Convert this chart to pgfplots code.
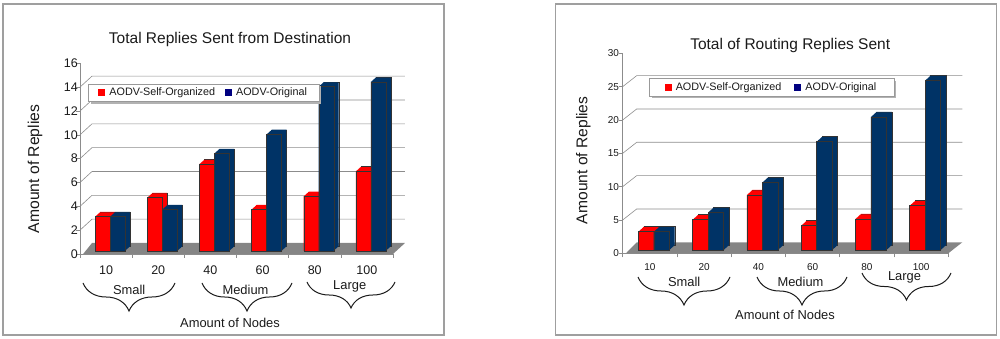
\documentclass[border=0pt]{standalone}
\usepackage{fontspec}
\setmainfont{Liberation Sans}
\usepackage{pgfplots}
\pgfplotsset{compat=1.18}
\usepackage{pgfplotstable}
\usetikzlibrary{decorations.pathreplacing,shadows}

\definecolor{barred}{HTML}{FF0000}
\definecolor{barblue}{HTML}{003366}
\definecolor{legblue}{HTML}{000080}
\definecolor{txt}{HTML}{1A1A1A}
\definecolor{floorgray}{HTML}{858585}
\definecolor{gridgray}{HTML}{8C8C8C}

\pgfplotstableread{
cat self orig
0 2.9 2.9
1 4.5 3.5
2 7.3 8.2
3 3.5 9.8
4 4.6 13.8
5 6.7 14.2
}\dest
\pgfplotstableread{
cat self orig
0 2.8 2.8
1 4.6 5.7
2 8.3 10.2
3 3.7 16.3
4 4.7 20.0
5 6.7 25.5
}\routing

% #1 table, #2 column, #3 colour, #4 bar shift, #5 depth x, #6 depth y, #7 bar width
\newcommand{\barseries}[7]{%
  \addplot[ybar, forget plot, bar width=#7, bar shift=#4, fill=#3, draw=black!80, line width=0.3pt,
           xshift=#5, yshift=3pt+#6] table[x=cat,y=#2]{#1};
  \pgfplotsinvokeforeach{9,8,...,1}{%
    \addplot[ybar, forget plot, bar width=#7, bar shift=#4, fill=#3, draw=none,
             xshift={##1*#5/10}, yshift={3pt+##1*#6/10}] table[x=cat,y=#2]{#1};
  }
  \addplot[ybar, forget plot, bar width=#7, bar shift=#4, fill=#3, draw=black!80, line width=0.3pt,
           yshift=3pt] table[x=cat,y=#2]{#1};
}

\newcommand{\legsquare}[1]{%
  \pgfsetfillcolor{#1}%
  \pgfpathrectangle{\pgfpoint{0pt}{-3.5pt}}{\pgfpoint{7pt}{7pt}}%
  \pgfusepath{fill}%
  \pgfpathrectangle{\pgfpoint{0pt}{-3.5pt}}{\pgfpoint{9pt}{7pt}}%
  \pgfusepath{use as bounding box}%
}

\pgfplotsset{
  chartbase/.style={
    scale only axis, clip=false, axis on top=false,
    axis lines=left, axis line style={-, draw=gridgray, line width=0.6pt},
    xmin=-0.5, xmax=5.5, ymin=0,
    xtick={-0.5,0.5,1.5,2.5,3.5,4.5,5.5},
    xticklabels={10,20,40,60,80,100},
    x tick label as interval,
    tick align=outside, major tick length=4pt,
    tick style={draw=gridgray, line width=0.6pt},
    /pgf/number format/assume math mode=true,
    tick label style={text=txt},
    yticklabel style={inner xsep=1pt},
    legend columns=2,
    legend cell align=left,
  },
  legred/.style={legend image code/.code={\legsquare{barred}}},
  legblue/.style={legend image code/.code={\legsquare{legblue}}},
}

\begin{document}
\begin{tikzpicture}[x=1pt,y=1pt]
\path[use as bounding box] (0,0) rectangle (1000,339);

% ---------- frames ----------
\draw[gray!75, line width=1.4pt] (3,4) rectangle (444,335);
\draw[gray!75, line width=1.4pt] (555.7,4) rectangle (996.7,335);

% ================= LEFT CHART =================
\begin{axis}[chartbase,
  at={(80pt,85pt)}, anchor=south west,
  width=313pt, height=190.7pt,
  ymax=16, ytick={0,2,...,16},
  tick label style={font=\fontsize{12.5}{14}\selectfont},
  yticklabel style={xshift=3pt},
  xticklabel style={yshift=-4pt},
  legend style={at={(0.0265,0.847)}, anchor=west, draw=gray!80, fill=white, inner xsep=10pt,
    drop shadow={shadow xshift=2.5pt, shadow yshift=-2.5pt, fill=gray!60, opacity=1},
    font=\fontsize{10.8}{12}\selectfont, text=txt,
    /tikz/every even column/.append style={column sep=8pt}},
]
\pgfplotsinvokeforeach{2,4,...,14}{%
  \draw[gridgray, line width=0.6pt] (axis cs:-0.5,#1) -- ([shift={(12pt,11pt)}]axis cs:-0.5,#1) -- ([shift={(12pt,11pt)}]axis cs:5.5,#1);
}
\fill[floorgray] (axis cs:-0.44,0) -- (axis cs:5.5,0) -- ([shift={(12pt,11pt)}]axis cs:5.5,0) -- ([shift={(12pt,11pt)}]axis cs:-0.5,0) -- cycle;
\barseries{\dest}{self}{barred}{-3.5pt}{5pt}{4.5pt}{15pt}
\barseries{\dest}{orig}{barblue}{11.5pt}{5pt}{4.5pt}{15pt}
\addlegendimage{legred}
\addlegendentry{AODV-Self-Organized}
\addlegendimage{legblue}
\addlegendentry{AODV-Original\hspace{10pt}}
\end{axis}

\node[anchor=base, text=txt, font=\fontsize{15.5}{18}\selectfont] at (230,295) {Total Replies Sent from Destination};
\node[rotate=90, text=txt, font=\fontsize{15.7}{18}\selectfont] at (35,170) {Amount of Replies};
\draw[txt, line width=1pt, decorate, decoration={brace, mirror, amplitude=28pt}] (83,56) -- (175,56);
\draw[txt, line width=1pt, decorate, decoration={brace, mirror, amplitude=28pt}] (202,56) -- (292,56);
\draw[txt, line width=1pt, decorate, decoration={brace, mirror, amplitude=26pt}] (307,57) -- (395,57);
\node[anchor=base, text=txt, font=\fontsize{12.9}{15}\selectfont] at (129.2,44) {Small};
\node[anchor=base, text=txt, font=\fontsize{12.9}{15}\selectfont] at (245.5,44) {Medium};
\node[anchor=base, text=txt, font=\fontsize{12.9}{15}\selectfont] at (349.7,49) {Large};
\node[anchor=base, text=txt, font=\fontsize{12.9}{15}\selectfont] at (230,11) {Amount of Nodes};

% ================= RIGHT CHART =================
\begin{axis}[chartbase,
  at={(622.7pt,85.7pt)}, anchor=south west,
  width=325.6pt, height=200pt,
  ymax=30, ytick={0,5,...,30},
  tick label style={font=\fontsize{10}{12}\selectfont},
  yticklabel style={xshift=1.5pt},
  xticklabel style={yshift=-2.5pt},
  legend style={at={(0.081,0.83)}, anchor=west, draw=gray!80, fill=white, inner xsep=15.5pt,
    drop shadow={shadow xshift=2.5pt, shadow yshift=-2.5pt, fill=gray!60, opacity=1},
    font=\fontsize{10.8}{12}\selectfont, text=txt,
    /tikz/every even column/.append style={column sep=11pt}},
]
\pgfplotsinvokeforeach{5,10,...,25}{%
  \draw[gridgray, line width=0.6pt] (axis cs:-0.5,#1) -- ([shift={(14pt,11pt)}]axis cs:-0.5,#1) -- ([shift={(14pt,11pt)}]axis cs:5.5,#1);
}
\fill[floorgray] (axis cs:-0.44,0) -- (axis cs:5.5,0) -- ([shift={(14pt,11pt)}]axis cs:5.5,0) -- ([shift={(14pt,11pt)}]axis cs:-0.5,0) -- cycle;
\barseries{\routing}{self}{barred}{-3.85pt}{5.5pt}{5pt}{15.5pt}
\barseries{\routing}{orig}{barblue}{11.65pt}{5.5pt}{5pt}{15.5pt}
\addlegendimage{legred}
\addlegendentry{AODV-Self-Organized}
\addlegendimage{legblue}
\addlegendentry{AODV-Original\hspace{3pt}}
\end{axis}

\node[anchor=base, text=txt, font=\fontsize{15.5}{18}\selectfont] at (790.2,289) {Total of Routing Replies Sent};
\node[rotate=90, text=txt, font=\fontsize{15.6}{18}\selectfont] at (583.3,178.7) {Amount of Replies};
\draw[txt, line width=1pt, decorate, decoration={brace, mirror, amplitude=28pt}] (638,62) -- (730,62);
\draw[txt, line width=1pt, decorate, decoration={brace, mirror, amplitude=28pt}] (757,62) -- (847,62);
\draw[txt, line width=1pt, decorate, decoration={brace, mirror, amplitude=27pt}] (862,66) -- (951,66);
\node[anchor=base, text=txt, font=\fontsize{12.9}{15}\selectfont] at (684.2,52.3) {Small};
\node[anchor=base, text=txt, font=\fontsize{12.9}{15}\selectfont] at (800.5,52.3) {Medium};
\node[anchor=base, text=txt, font=\fontsize{12.9}{15}\selectfont] at (904.5,58.3) {Large};
\node[anchor=base, text=txt, font=\fontsize{12.9}{15}\selectfont] at (785,19) {Amount of Nodes};
\end{tikzpicture}
\end{document}
